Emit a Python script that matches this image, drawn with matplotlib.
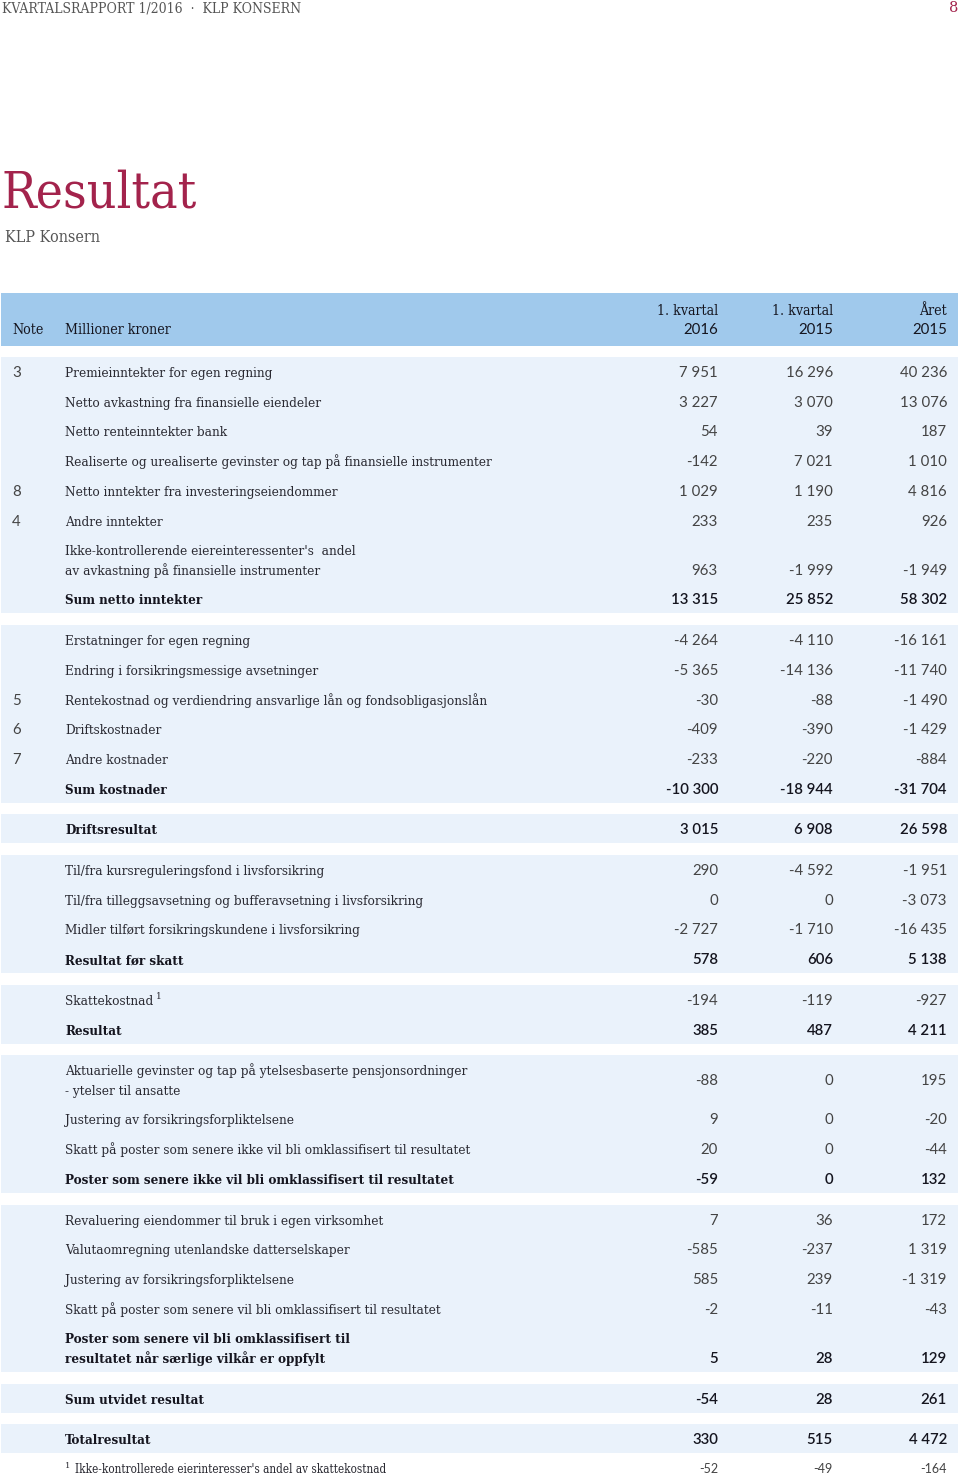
import matplotlib
matplotlib.use("Agg")
import matplotlib.pyplot as plt
from matplotlib.patches import Rectangle

# ---------------- data ----------------
col_headers_top = ["1. kvartal", "1. kvartal", "Året"]
col_headers_bottom = ["2016", "2015", "2015"]

groups = [0, 0, 0, 0, 0, 0, 0, 0,
          1, 1, 1, 1, 1, 1,
          2,
          3, 3, 3, 3,
          4, 4,
          5, 5, 5, 5,
          6, 6, 6, 6, 6,
          7,
          8]

notes = ["3", "", "", "", "8", "4", "", "",
         "", "", "5", "6", "7", "",
         "",
         "", "", "", "",
         "", "",
         "", "", "", "",
         "", "", "", "", "",
         "",
         ""]

labels = [
    "Premieinntekter for egen regning",
    "Netto avkastning fra finansielle eiendeler",
    "Netto renteinntekter bank",
    "Realiserte og urealiserte gevinster og tap på finansielle instrumenter",
    "Netto inntekter fra investeringseiendommer",
    "Andre inntekter",
    "Ikke-kontrollerende eiereinteressenter's  andel\nav avkastning på finansielle instrumenter",
    "Sum netto inntekter",
    "Erstatninger for egen regning",
    "Endring i forsikringsmessige avsetninger",
    "Rentekostnad og verdiendring ansvarlige lån og fondsobligasjonslån",
    "Driftskostnader",
    "Andre kostnader",
    "Sum kostnader",
    "Driftsresultat",
    "Til/fra kursreguleringsfond i livsforsikring",
    "Til/fra tilleggsavsetning og bufferavsetning i livsforsikring",
    "Midler tilført forsikringskundene i livsforsikring",
    "Resultat før skatt",
    "Skattekostnad",
    "Resultat",
    "Aktuarielle gevinster og tap på ytelsesbaserte pensjonsordninger\n- ytelser til ansatte",
    "Justering av forsikringsforpliktelsene",
    "Skatt på poster som senere ikke vil bli omklassifisert til resultatet",
    "Poster som senere ikke vil bli omklassifisert til resultatet",
    "Revaluering eiendommer til bruk i egen virksomhet",
    "Valutaomregning utenlandske datterselskaper",
    "Justering av forsikringsforpliktelsene",
    "Skatt på poster som senere vil bli omklassifisert til resultatet",
    "Poster som senere vil bli omklassifisert til\nresultatet når særlige vilkår er oppfylt",
    "Sum utvidet resultat",
    "Totalresultat",
]

label_superscripts = {19: "1"}

q1_2016 = [7951, 3227, 54, -142, 1029, 233, 963, 13315,
           -4264, -5365, -30, -409, -233, -10300,
           3015,
           290, 0, -2727, 578,
           -194, 385,
           -88, 9, 20, -59,
           7, -585, 585, -2, 5,
           -54,
           330]
q1_2015 = [16296, 3070, 39, 7021, 1190, 235, -1999, 25852,
           -4110, -14136, -88, -390, -220, -18944,
           6908,
           -4592, 0, -1710, 606,
           -119, 487,
           0, 0, 0, 0,
           36, -237, 239, -11, 28,
           28,
           515]
year_2015 = [40236, 13076, 187, 1010, 4816, 926, -1949, 58302,
             -16161, -11740, -1490, -1429, -884, -31704,
             26598,
             -1951, -3073, -16435, 5138,
             -927, 4211,
             195, -20, -44, 132,
             172, 1319, -1319, -43, 129,
             261,
             4472]
bold_rows = [7, 13, 14, 18, 20, 24, 29, 30, 31]
centered_value_rows = [21]

footnote_text = "Ikke-kontrollerede eierinteresser's andel av skattekostnad"
footnote_values = [-52, -49, -164]

# ---------------- style ----------------
SERIF = ["DejaVu Serif"]
SANS = ["Lato", "DejaVu Sans"]
CRIMSON = "#a3234c"
HEADER_BG = "#a0c9ec"
BAND_BG = "#eaf2fb"
TEXT = "#2a2a32"
NUM = "#444444"
DARK = "#15151f"

W, H = 960, 1475
fig = plt.figure(figsize=(W / 100, H / 100), dpi=100)
ax = fig.add_axes([0, 0, 1, 1])
ax.set_xlim(0, W)
ax.set_ylim(H, 0)
ax.axis("off")

def fmt(v):
    return f"{v:,}".replace(",", " ")

# page header
ax.text(2, 8, "KVARTALSRAPPORT 1/2016  ·  KLP KONSERN", family=SERIF, fontsize=10,
        color="#555555", va="center", ha="left", fontstretch="condensed")
ax.text(958, 8, "8", family=SERIF, fontsize=10.5, color=CRIMSON, va="center", ha="right")

# title
ax.text(1, 208, "Resultat", family=SERIF, fontsize=37, color=CRIMSON,
        va="baseline", ha="left", fontweight="light", fontstretch="condensed")
ax.text(5, 242, "KLP Konsern", family=SERIF, fontsize=11.5, color="#555555",
        va="baseline", ha="left", fontstretch="condensed")

# columns
col_x = [718, 833, 947]
note_x = 12
label_x = 65

# header band
ax.add_patch(Rectangle((1, 293), 957, 53, facecolor=HEADER_BG, edgecolor="none"))
ax.text(note_x, 334, "Note", family=SERIF, fontsize=10.2, color=DARK, va="baseline",
        fontweight="normal", fontstretch="condensed")
ax.text(label_x, 334, "Millioner kroner", family=SERIF, fontsize=10.2, color=DARK,
        va="baseline", fontweight="normal", fontstretch="condensed")
for x, t, b in zip(col_x, col_headers_top, col_headers_bottom):
    ax.text(x, 315, t, family=SERIF, fontsize=10.2, color=DARK, va="baseline", ha="right",
            fontweight="normal", fontstretch="condensed")
    ax.text(x, 334, b, family=SANS, fontsize=10.8, color=DARK, va="baseline", ha="right")

# layout of rows
pitch = 29.7
line_extra = 19.5
group_gap = 11.0
cursor = 372.0
row_first = []
row_last = []
prev_group = groups[0]
for i, lab in enumerate(labels):
    if groups[i] != prev_group:
        cursor += group_gap
        prev_group = groups[i]
    n = lab.count("\n") + 1
    row_first.append(cursor)
    row_last.append(cursor + (n - 1) * line_extra)
    cursor = row_last[-1] + pitch
footnote_y = cursor

# bands
for g in sorted(set(groups)):
    idx = [i for i in range(len(labels)) if groups[i] == g]
    top = row_first[idx[0]] - 15
    bot = row_last[idx[-1]] + 14
    ax.add_patch(Rectangle((1, top), 957, bot - top, facecolor=BAND_BG, edgecolor="none"))

renderer = fig.canvas.get_renderer()

for i, lab in enumerate(labels):
    bold = i in bold_rows
    lines = lab.split("\n")
    for k, line in enumerate(lines):
        yy = row_first[i] + k * line_extra + 5
        t = ax.text(label_x, yy, line, family=SERIF, fontsize=9.7 if not bold else 9.6,
                    color=DARK if bold else TEXT, va="baseline", ha="left",
                    fontweight="semibold" if bold else "normal", fontstretch="condensed")
    if i in label_superscripts:
        bb = t.get_window_extent(renderer=renderer)
        ax.text(label_x + bb.width + 3, row_first[i] - 1, label_superscripts[i], family=SERIF,
                fontsize=6.5, color=TEXT, va="baseline", ha="left")
    if notes[i]:
        ax.text(note_x, row_first[i] + 5, notes[i], family=SANS, fontsize=10.8, color=NUM,
                va="baseline", ha="left")
    if i in centered_value_rows:
        vy = (row_first[i] + row_last[i]) / 2 + 5
    else:
        vy = row_last[i] + 5
    for x, vals in zip(col_x, [q1_2016, q1_2015, year_2015]):
        ax.text(x, vy, fmt(vals[i]), family=SANS, fontsize=10.8,
                color=DARK if bold else NUM, va="baseline", ha="right",
                fontweight="semibold" if bold else "normal")

# footnote
ax.text(label_x, footnote_y - 1, "1", family=SERIF, fontsize=6, color=TEXT, va="baseline")
ax.text(label_x + 10, footnote_y + 4, footnote_text, family=SERIF, fontsize=8.4, color=TEXT,
        va="baseline", fontstretch="condensed")
for x, v in zip(col_x, footnote_values):
    ax.text(x, footnote_y + 4, fmt(v), family=SANS, fontsize=9, color=NUM, va="baseline",
            ha="right")

fig.savefig("out.png", dpi=100)
